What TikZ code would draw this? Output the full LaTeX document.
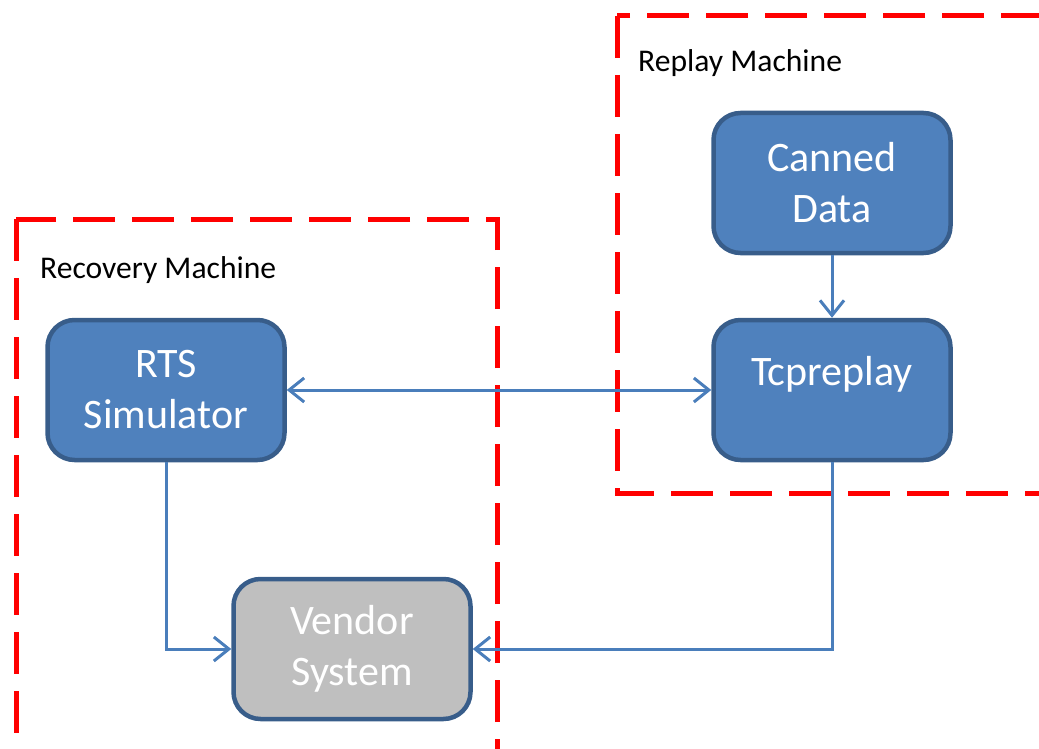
\documentclass[tikz,border=0pt]{standalone}
\usepackage{fontspec}
\setmainfont{Carlito}
\usetikzlibrary{arrows.meta}
\definecolor{boxfill}{HTML}{4F81BD}
\definecolor{boxline}{HTML}{385D8A}
\definecolor{linkcol}{HTML}{4A7EBB}
\definecolor{greyfill}{HTML}{BFBFBF}
\begin{document}
\begin{tikzpicture}[x=1pt,y=-1pt,
    >={Straight Barb[length=15pt,width=24pt]},
    machine/.style={draw=red,line width=5pt,dash pattern=on 42pt off 17pt},
    tag/.style={anchor=base west,inner sep=0pt,font=\fontsize{31.6}{38}\selectfont},
    unit/.style={draw=boxline,fill=boxfill,line width=4.5pt,rounded corners=27pt,
      minimum width=237pt,minimum height=140pt,text=white,align=center,
      font=\fontsize{42}{51}\selectfont},
    link/.style={draw=linkcol,line width=3pt}]
  \useasboundingbox (0,0) rectangle (1039,749);
  \clip (0,0) rectangle (1039,749);
  % machines
  \draw [machine] (617,16) rectangle (1120,493);
  \draw [machine] (16,219) rectangle (497,820);
  \node [tag] (replaylbl) at (638,72) {Replay Machine};
  \node [tag] (recoverylbl) at (40,278) {Recovery Machine};
  % boxes
  \node [unit] (canned) at (832,183) {Canned\\Data};
  \node [unit,text height=29pt,text depth=38pt] (tcp) at (832,390) {Tcpreplay};
  \node [unit] (rts) at (166,390) {RTS\\Simulator};
  \node [unit,fill=greyfill] (vendor) at (352,649) {Vendor\\System};
  % links
  \draw [link,->] (canned) -- (tcp);
  \draw [link,<->] (rts) -- (tcp);
  \draw [link,->] (rts.south) |- (vendor.west);
  \draw [link,->] (tcp.south) |- (vendor.east);
\end{tikzpicture}
\end{document}
